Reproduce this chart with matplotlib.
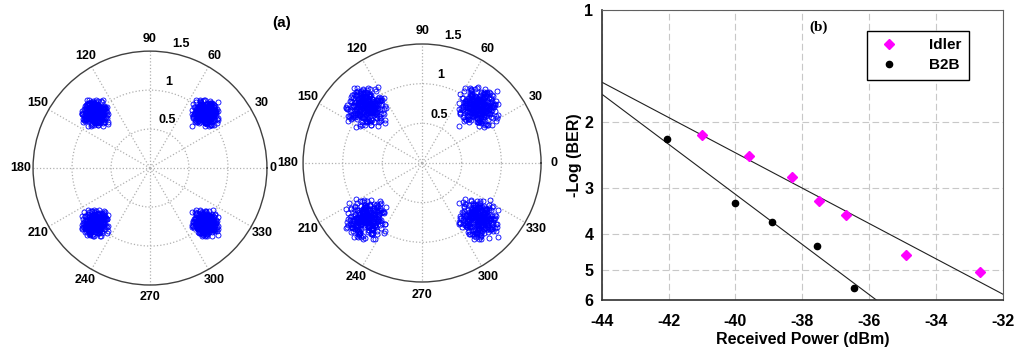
import numpy as np
from matplotlib import pyplot as plt

plt.rcParams['font.family'] = ['Liberation Sans', 'DejaVu Sans']
plt.rcParams['axes.unicode_minus'] = False

# ---- constellation data (a) ----
cluster_angles = [45, 135, 225, 315]   # degrees
cluster_radius = [1.0, 1.0, 1.0, 1.0]
spread_left = 0.082    # noise spread, left diagram
spread_right = 0.12    # noise spread, right diagram

# hand estimated noise offsets (unit spread), read off the clouds
noise_x = [0.12, -0.85, 1.31, -0.42, 0.67, -1.54, 0.03, 0.91, -0.27, -1.08,
           0.48, 1.72, -0.63, 0.25, -0.19, 1.05, -1.36, 0.58, -0.74, 0.36,
           2.02, -0.05, -0.96, 0.81, -1.87, 0.44, 1.19, -0.33, -0.58, 0.15,
           0.72, -1.22, 1.44, -0.11, 0.29, -0.69, 0.97, -1.61, 0.06, 0.53,
           -0.38, 1.26, -0.88, 0.19, -2.05, 0.64, -0.14, 1.58, -0.47, 0.84,
           -1.01, 0.33, -0.23, 1.12, -0.79, 0.41, -1.43, 0.09, 0.77, -0.55,
           1.89, -0.31, 0.22, -1.15, 0.61, -0.02, 1.37, -0.66, -0.17, 0.94]
noise_y = [-0.44, 0.73, 0.08, -1.29, 1.52, -0.21, 0.96, -0.67, 0.31, 1.18,
           -1.73, 0.14, -0.36, 0.59, -0.93, 1.91, -0.08, -1.12, 0.47, 0.26,
           -0.55, 1.34, -1.48, 0.02, 0.83, -0.29, -0.76, 1.07, 0.38, -1.95,
           0.65, -0.12, 1.63, -0.61, -0.04, 0.88, -1.24, 0.19, 1.41, -0.83,
           0.55, -0.17, -1.06, 0.71, 0.34, -0.49, 1.22, -1.57, 0.11, 0.92,
           -0.26, 1.75, -0.71, 0.43, -1.35, 0.05, 0.62, -0.94, 1.11, -0.15,
           -0.58, 0.28, 2.06, -1.01, 0.79, -0.33, -0.87, 0.17, 1.46, -0.39]

# ---- BER data (b) ----
idler_power = [-41.0, -39.6, -38.3, -37.5, -36.7, -34.9, -32.7]
idler_ber = [2.16, 2.47, 2.81, 3.25, 3.55, 4.53, 5.05]
b2b_power = [-42.05, -40.0, -38.9, -37.55, -36.45]
b2b_ber = [2.22, 3.30, 3.71, 4.29, 5.57]
x_ticks = [-44, -42, -40, -38, -36, -34, -32]
y_ticks = [1, 2, 3, 4, 5, 6]

fig = plt.figure(figsize=(10.18, 3.56), dpi=100)


def constellation(rect, spread, zero_r=1.66, left_r=1.66):
    ax = fig.add_axes(rect, projection='polar')
    xs = []
    ys = []
    nx = np.array(noise_x)
    ny = np.array(noise_y)
    for k, (ang, rad) in enumerate(zip(cluster_angles, cluster_radius)):
        cx = rad * np.cos(np.deg2rad(ang))
        cy = rad * np.sin(np.deg2rad(ang))
        # four pairings of the offset lists per cluster
        pairs = [(nx, np.roll(ny, 7 * k + 3)),
                 (ny, np.roll(nx, 5 * k + 11)),
                 (-np.roll(nx, 9), np.roll(-ny, 3 * k + 29)),
                 (-np.roll(ny, 23), np.roll(nx, 11 * k + 41))]
        for ox, oy in pairs:
            xs.append(cx + spread * ox)
            ys.append(cy + spread * oy)
    xs = np.concatenate(xs)
    ys = np.concatenate(ys)
    ax.plot(np.arctan2(ys, xs), np.hypot(xs, ys), 'o', markersize=3.6,
            markerfacecolor='none', markeredgecolor='#0000ff',
            markeredgewidth=0.6, zorder=3)

    ax.set_ylim(0, 1.5)
    ax.set_yticks([0.5, 1.0])
    ax.set_xticks(np.deg2rad(np.arange(0, 360, 30)))
    ax.set_xticklabels([])
    ax.set_yticklabels([])
    ax.grid(True, color='#b0b0b0', linestyle=':', linewidth=0.9)
    ax.spines['polar'].set_color('#404040')
    ax.spines['polar'].set_linewidth(1.0)

    # angle labels, MATLAB style
    for a in range(0, 360, 30):
        r_lab = 1.66
        if a == 0:
            r_lab = zero_r
        elif a == 180:
            r_lab = left_r
        ax.text(np.deg2rad(a), r_lab, str(a), ha='center', va='center',
                fontsize=9, fontweight='bold', clip_on=False)
    # radius labels
    for r, s in [(0.5, '0.5'), (1.0, '1'), (1.5, '1.5')]:
        ax.text(np.deg2rad(80), r + 0.12, s, ha='left', va='center',
                fontsize=9, fontweight='bold', clip_on=False)
    return ax


# the left "0" and the right "180" sit very close together
constellation([0.0324, 0.1994, 0.2299, 0.657], spread_left, zero_r=1.58)
constellation([0.2977, 0.2079, 0.2338, 0.6685], spread_right, left_r=1.70)
fig.text(0.277, 0.935, '(a)', fontsize=11, fontweight='bold',
         ha='center', va='center')

# ---- BER curve ----
ax = fig.add_axes([0.591, 0.1573, 0.3942, 0.8146])
ax.set_yscale('log')
ax.set_xlim(-44, -32)
ax.set_ylim(6, 1)

# straight fits of log(-log BER) against power
xf = np.array([-44, -32])
p = np.polyfit(idler_power, np.log10(idler_ber), 1)
ax.plot(xf, 10 ** np.polyval(p, xf), color='#202020', linewidth=0.8)
p = np.polyfit(b2b_power, np.log10(b2b_ber), 1)
ax.plot(xf, 10 ** np.polyval(p, xf), color='#202020', linewidth=0.8)

ax.plot(idler_power, idler_ber, 'D', color='#ff00ff', markersize=5.5,
        linestyle='none', label='Idler', zorder=4)
ax.plot(b2b_power, b2b_ber, 'o', color='black', markersize=4.5,
        linestyle='none', label='B2B', zorder=4)

ax.set_xticks(x_ticks)
ax.set_yticks(y_ticks)
ax.set_yticklabels([str(v) for v in y_ticks])
ax.yaxis.set_minor_locator(plt.NullLocator())
ax.tick_params(length=0, labelsize=11.5)
ax.tick_params(axis='x', pad=10)
ax.tick_params(axis='y', pad=6)
for lab in ax.get_xticklabels() + ax.get_yticklabels():
    lab.set_fontweight('bold')
ax.grid(True, color='#c8c8c8', linestyle=(0, (6, 3)), linewidth=0.8)
for side in ['top', 'right']:
    ax.spines[side].set_color('#606060')
    ax.spines[side].set_linewidth(0.8)
for side in ['left', 'bottom']:
    ax.spines[side].set_color('#303030')
    ax.spines[side].set_linewidth(1.2)

ax.set_xlabel('Received Power (dBm)', fontsize=11.5, fontweight='bold', labelpad=2)
ax.set_ylabel('-Log (BER)', fontsize=11.5, fontweight='bold', labelpad=2)
ax.text(-37.5, 1.11, '(b)', fontsize=11, fontweight='bold',
        family='Liberation Serif', ha='center', va='center')

leg = ax.legend(loc='upper right', bbox_to_anchor=(0.935, 0.955),
                fancybox=False, framealpha=1, edgecolor='black',
                prop={'weight': 'bold', 'size': 11}, handletextpad=1.6,
                borderpad=0.5, labelspacing=0.4)
leg.get_frame().set_linewidth(1.0)

plt.savefig('out.png', dpi=100)
